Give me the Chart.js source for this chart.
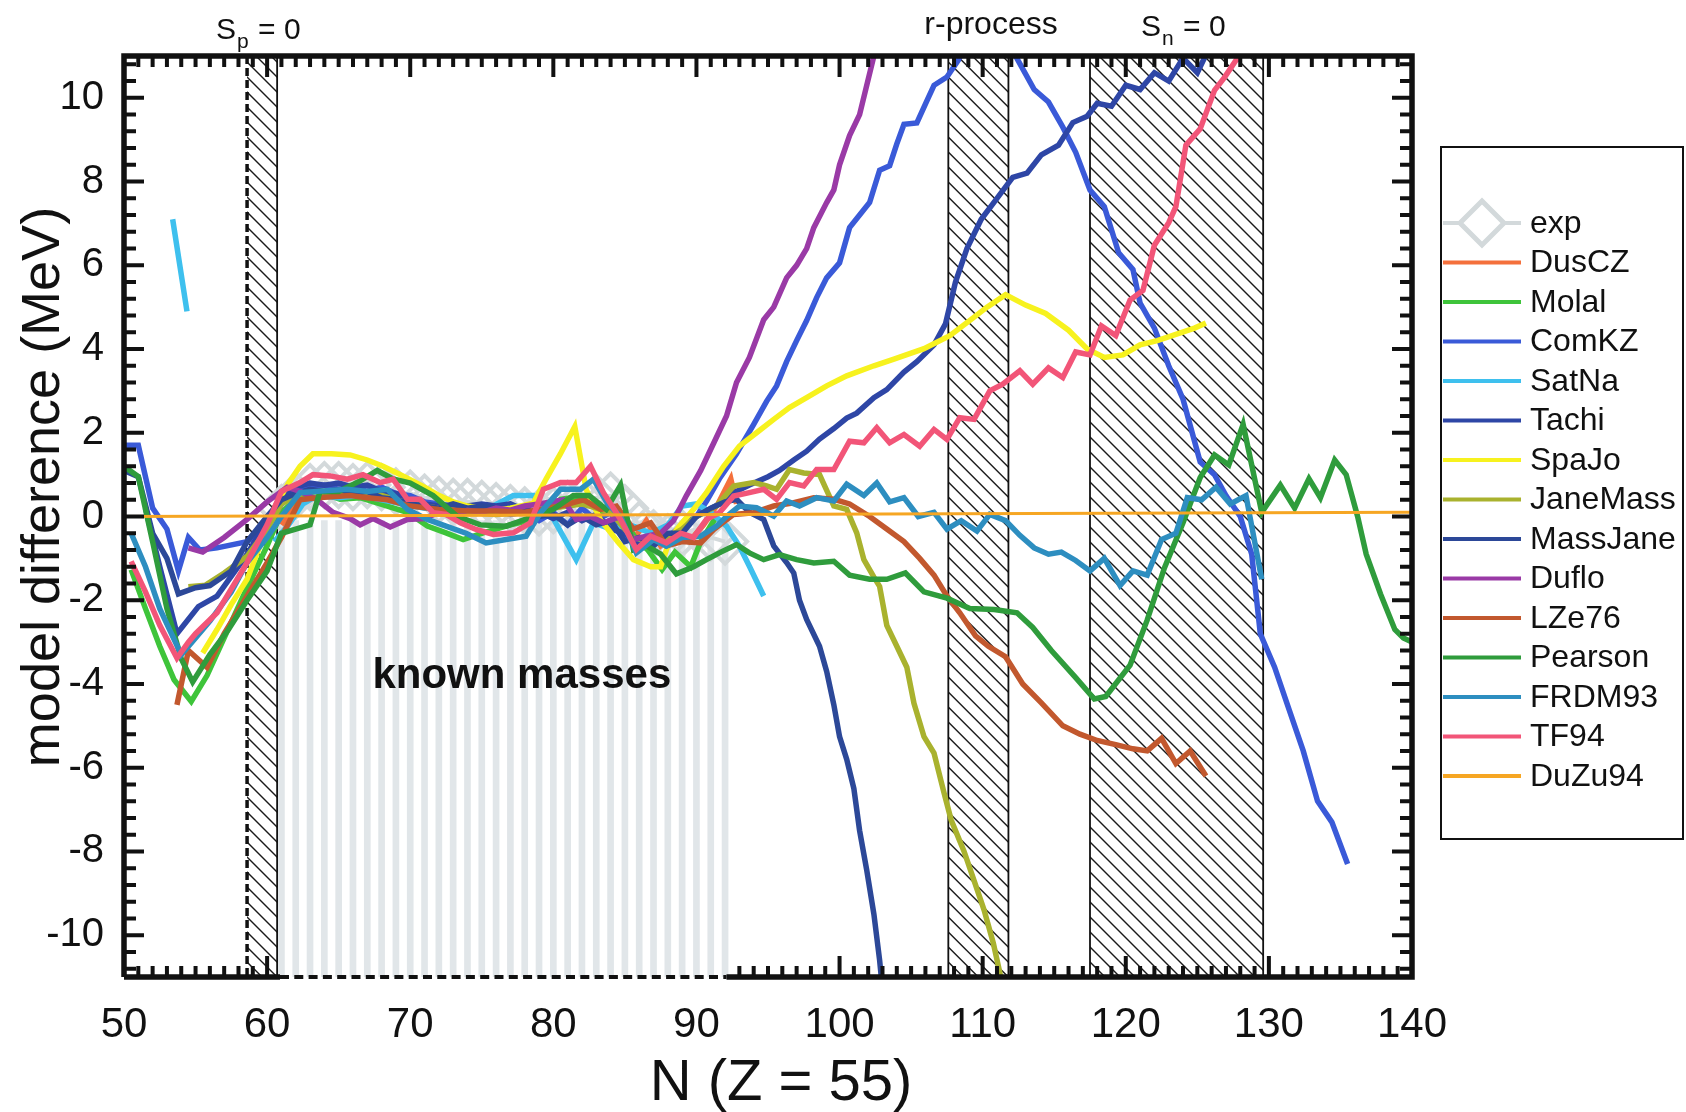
<!DOCTYPE html>
<html>
<head>
<meta charset="utf-8">
<script src="https://cdn.jsdelivr.net/npm/chart.js@4.4.1/dist/chart.umd.min.js"></script>
<style>
  body { margin: 0; background: #fff; }
  canvas { display: block; }
</style>
</head>
<body>
<canvas id="massChart" width="1686" height="1112"></canvas>
<script>
// axis ranges and tick labels
const xMin = 50, xMax = 140;
const yMin = -11, yMax = 11;
const xTicks = [50, 60, 70, 80, 90, 100, 110, 120, 130, 140];
const yTicks = [-10, -8, -6, -4, -2, 0, 2, 4, 6, 8, 10];

// shaded regions (N ranges)
const spBand = [58.6, 60.7];
const rBand = [107.6, 111.8];
const snBand = [117.5, 129.6];
const knownGap = [60.9, 92.1];

// experimental points (known masses)
const knownN = [61, 62, 63, 64, 65, 66, 67, 68, 69, 70, 71, 72, 73, 74, 75, 76,
                77, 78, 79, 80, 81, 82, 83, 84, 85, 86, 87, 88, 89, 90, 91, 92];
const expV = [0.2, 0.5, 0.7, 0.75, 0.75, 0.7, 0.75, 0.7, 0.6, 0.55, 0.45, 0.4, 0.35, 0.35, 0.3, 0.25,
              0.2, 0.15, 0.1, 0.15, 0.3, 0.4, 0.45, 0.5, 0.2, -0.2, -0.4, -0.5, -0.4, -0.3, -0.5, -0.6];
const stripeTop = -0.1;

// model differences, [N, MeV]
const dusCZ = [[61,-0.2],[62,0.3],[63.5,0.5],[65,0.55],[67,0.45],[69,0.35],[71,0.25],[73,0.2],[75,0.15],
  [77,0.1],[79,0.1],[81,0.3],[82.5,0.4],[84,0.1],[85.5,-0.6],[86.5,-0.1],[87.5,-0.7],[88.5,-0.4],
  [89.5,-0.6],[90.5,-0.2],[91.5,0.3],[92.4,0.9],[92.8,0.3]];

const molal = [[50.5,-1.27],[51.5,-2.2],[52.5,-3.1],[53.5,-3.9],[54.7,-4.42],[55.8,-3.8],[57,-2.9],
  [58.6,-1.7],[60,-0.7],[61,0.1],[62,0.4],[63.5,0.6],[65.1,0.41],[66.5,0.45],[68.4,0.25],[69.8,0.1],
  [71.2,-0.23],[72.5,-0.39],[73.7,-0.55],[75.1,-0.39],[77,-0.2],[78.6,-0.07],[80.5,0.41],[82.1,0.49],
  [83.3,0.09],[84.4,0.2],[85.8,-0.55],[86.6,-0.8],[87.6,-1.27],[88.5,-0.85],[89.6,-1.2],[90.3,-0.6],[91.4,0.0]];

const comKZ = [[50,1.7],[51,1.7],[52,0.2],[53,-0.3],[53.8,-1.3],[54.5,-0.5],[55.3,-0.8],[56.5,-0.75],
  [58.6,-0.6],[60,-0.3],[61,0.3],[62,0.6],[63,0.7],[64,0.75],[65,0.65],[66,0.7],[67,0.6],[68,0.7],
  [69,0.55],[70,0.5],[71,0.35],[72,0.3],[73,0.25],[74,0.2],[75,0.1],[76,0.15],[77,0.05],[78,0.1],
  [79,-0.1],[80,0.1],[81,-0.2],[82,0.2],[83,-0.1],[84,0.1],[85,-0.5],[86,-0.6],[87,-0.4],[88,-0.5],
  [89,-0.2],[90,0.0],[90.7,0.36],[91.6,0.9],[92.8,1.5],[94,2.2],[94.9,2.75],[95.6,3.12],[96.3,3.7],
  [97,4.2],[97.7,4.68],[98.4,5.23],[99.1,5.7],[100,6.06],[100.7,6.9],[101.4,7.2],[102.1,7.5],
  [102.8,8.27],[103.5,8.38],[104,8.9],[104.5,9.37],[105.4,9.4],[106.1,9.93],[106.6,10.3],[107.5,10.5],
  [108.3,10.9],[109,11.4],[111,11.9],[112.3,11.0],[113.6,10.2],[114.6,9.9],[115.6,9.3],[116.5,8.7],
  [117.5,7.8],[118.5,7.4],[119.5,6.3],[120.5,5.9],[121,5.1],[122,4.5],[123,3.6],[124,2.8],[125.2,1.3],
  [126.2,1.0],[127,0.5],[128,0.0],[128.8,-0.9],[129.4,-2.8],[130.4,-3.6],[131.4,-4.6],[132.4,-5.6],
  [133.4,-6.8],[134.4,-7.3],[135.5,-8.3]];

const satNa = [[53.4,7.1],[54.4,4.9],[57,null],[60.5,-0.6],[61.5,-0.2],[62.5,0.3],[63.5,0.5],[65,0.45],
  [66.5,0.5],[68,0.4],[69.5,0.3],[71,0.2],[72.5,0.2],[74,0.15],[75.5,0.2],[77.2,0.5],[78.6,0.5],
  [80,-0.05],[81.6,-1.03],[82.8,-0.15],[84,-0.3],[85.6,-0.23],[86.8,-0.4],[88,-0.2],[89,0.25],[90,0.3],
  [91,0.1],[92.1,-0.23],[93,-0.71],[93.7,-1.19],[94.7,-1.9]];

const tachi = [[51.5,0.2],[52.5,-1.2],[53.7,-2.8],[55.2,-2.15],[56.5,-1.9],[58.6,-0.9],[60,-0.1],[61,0.5],
  [62,0.7],[63,0.8],[64,0.75],[65,0.8],[66,0.7],[67,0.75],[68,0.6],[69,0.55],[70,0.4],[71,0.3],[72,0.25],
  [73,0.2],[74,0.25],[75,0.3],[76,0.25],[77,0.3],[78,0.15],[79,0.1],[80,-0.05],[81,0.1],[82,-0.1],[83,0.05],
  [84,-0.3],[85,-0.4],[86,-0.7],[87,-0.5],[88,-0.6],[89,-0.3],[90,0.0],[91.6,0.3],[92.8,0.6],[93.7,0.75],
  [95,0.95],[95.8,1.1],[96.8,1.35],[97.7,1.56],[98.6,1.85],[99.6,2.1],[100.5,2.35],[101.2,2.47],
  [102.4,2.84],[103.3,3.03],[104.5,3.45],[105.4,3.7],[106.6,4.1],[107.4,4.6],[108.1,5.6],[108.9,6.4],
  [109.9,7.1],[111,7.6],[112.1,8.1],[113.1,8.2],[114.1,8.64],[115.3,8.87],[116.3,9.41],[117.3,9.56],
  [118,9.87],[119,9.8],[120,10.3],[121,10.2],[122,10.6],[123,10.4],[124,10.95],[125,10.6],[125.7,11.1],[126.3,11.5]];

const spaJo = [[55.5,-3.26],[56.5,-2.7],[57.5,-2.1],[58.6,-1.5],[59.5,-0.7],[60.5,0.2],[61.5,0.8],
  [62.3,1.2],[63.2,1.5],[64.5,1.5],[65.8,1.47],[67,1.35],[68.1,1.2],[69,1.05],[70,0.88],[71,0.7],
  [71.9,0.52],[73,0.35],[74,0.25],[75,0.2],[76,0.15],[77,0.2],[78.6,0.32],[79.5,0.9],[80.5,1.5],
  [81.5,2.15],[82.3,0.64],[83.3,-0.08],[84.5,-0.6],[85.6,-1.03],[86.8,-1.2],[87.5,-1.2],[88.2,-0.5],
  [88.8,-0.23],[89.8,0.17],[90.7,0.57],[91.9,1.2],[93,1.68],[94.2,2.0],[95.4,2.32],[96.5,2.6],
  [97.7,2.84],[99.1,3.12],[100.5,3.36],[102.4,3.6],[103.8,3.76],[105.9,4.01],[107.7,4.32],[109.2,4.71],
  [110.3,5.0],[111.6,5.3],[113,5.05],[114.4,4.85],[116,4.45],[117.3,4.0],[118.5,3.8],[119.8,3.86],
  [121,4.1],[122.2,4.2],[123.5,4.35],[124.8,4.5],[125.6,4.62]];

const janeMass = [[54.5,-1.68],[55.7,-1.64],[57,-1.35],[58.6,-0.95],[60,-0.3],[61,0.3],[62,0.5],[63,0.6],
  [64.5,0.55],[66,0.6],[68,0.5],[70,0.3],[72,0.2],[74,0.1],[76,0.05],[78,0.1],[80,0.2],[82,0.3],
  [84,0.1],[85.5,-0.5],[87,-0.6],[88,-0.5],[89,-0.3],[90,0.0],[91.4,0.25],[92.6,0.73],[94,0.81],
  [94.9,0.73],[95.6,0.65],[96.5,1.12],[97.5,1.04],[98.6,1.0],[99.6,0.25],[100.5,0.17],[101.2,-0.39],
  [101.7,-1.03],[102.4,-1.45],[102.8,-1.67],[103.3,-2.6],[104,-3.1],[104.7,-3.6],[105.2,-4.46],
  [105.9,-5.26],[106.6,-5.65],[107.3,-6.6],[107.8,-7.25],[108.7,-8.0],[109.4,-8.7],[110.1,-9.4],
  [110.75,-10.2],[111.2,-10.9],[111.4,-11.3]];

const massJane = [[50,1.1],[51,0.95],[52,-0.4],[53,-1.0],[53.8,-1.85],[55,-1.7],[56,-1.65],[57.5,-1.3],
  [58.6,-0.6],[60,0.0],[61,0.4],[62,0.55],[63,0.65],[64,0.6],[65,0.65],[66,0.55],[67,0.6],[68,0.45],
  [69,0.4],[70,0.3],[71,0.25],[72,0.2],[73,0.3],[74,0.2],[75,0.25],[76,0.2],[77,0.1],[78,0.2],[79,0.0],
  [80,0.05],[81,-0.2],[82,0.0],[83,-0.2],[84,-0.1],[85,-0.6],[86,-0.5],[87,-0.7],[88,-0.4],[89,-0.4],
  [90,0.0],[91,0.2],[92,0.35],[92.8,0.41],[93.7,0.1],[94.7,-0.07],[95.4,-0.7],[96.3,-1.1],[96.8,-1.35],
  [97.2,-2.0],[97.7,-2.46],[98.6,-3.1],[99.1,-3.7],[99.6,-4.5],[100,-5.26],[100.5,-5.8],[101,-6.5],
  [101.4,-7.5],[101.9,-8.45],[102.4,-9.5],[102.8,-10.6],[103,-11.3]];

const duflo = [[54.5,-0.75],[55.5,-0.85],[57,-0.5],[58.6,-0.07],[60,0.35],[61.4,0.7],[62.3,0.6],
  [63.5,0.4],[64.6,0.1],[65.8,-0.05],[66.5,-0.2],[67.4,-0.05],[68.6,-0.25],[69.8,-0.07],[71,-0.05],
  [72,0.1],[73,0.0],[74,0.15],[75,0.1],[76,0.2],[77,0.15],[78,0.25],[79,0.3],[80.7,0.4],[81.6,-0.07],
  [82.6,0.0],[83.5,-0.15],[84.7,0.0],[85.6,-0.55],[86.5,-0.47],[87.5,-0.4],[88.4,-0.1],[89.3,0.5],
  [90.3,1.1],[91.2,1.75],[92.1,2.4],[92.8,3.2],[93.7,3.8],[94.7,4.7],[95.4,5.0],[96.3,5.7],[97,6.0],
  [97.7,6.4],[98.2,6.9],[99.1,7.5],[99.6,7.8],[100,8.4],[100.7,9.1],[101.4,9.6],[102.4,11.0],[102.6,11.4]];

const lze76 = [[53.7,-4.5],[54.5,-3.2],[55.8,-3.6],[57,-2.8],[58.6,-1.9],[60,-1.1],[61,-0.5],[62.3,0.4],
  [63.5,0.45],[65.8,0.5],[67,0.45],[68.4,0.4],[70,0.25],[72,0.17],[74,0.13],[76,0.13],[78,0.1],
  [80.5,0.25],[82.1,0.4],[83.3,0.17],[84.4,0.25],[85.6,-0.3],[86.8,-0.15],[87.9,-0.7],[89,-0.6],
  [90.3,-0.63],[91.2,-0.31],[92.6,0.05],[94,0.09],[95.4,0.25],[96.8,0.33],[98.2,0.45],[99.6,0.41],
  [100.7,0.3],[102.1,0.0],[103.3,-0.3],[104.5,-0.6],[105.6,-1.0],[106.6,-1.4],[107.5,-1.9],[108.4,-2.3],
  [109.5,-2.85],[110.4,-3.1],[111.6,-3.35],[112.8,-4.0],[114.1,-4.45],[115.6,-5.0],[116.8,-5.2],
  [118,-5.35],[119.3,-5.45],[120.5,-5.55],[121.5,-5.6],[122.5,-5.3],[123.5,-5.9],[124.5,-5.6],[125.6,-6.2]];

const pearson = [[50,1.2],[51,0.95],[52,-0.6],[53,-2.2],[54,-3.4],[54.8,-3.95],[56,-3.3],[57.3,-2.7],
  [58.6,-2.0],[60,-1.3],[61,-0.4],[62,-0.3],[63,-0.2],[63.7,0.6],[65,0.6],[66.5,0.85],[67.7,1.1],
  [68.8,0.9],[70,0.8],[71.6,0.5],[73.3,0.0],[74.9,-0.2],[76.7,-0.23],[78.6,0.0],[80,0.17],[81.4,0.5],
  [82.5,0.5],[83.7,0.17],[84.7,0.75],[85.6,-0.8],[86.5,-0.7],[87.5,-0.9],[88.6,-1.37],[89.8,-1.2],
  [90.7,-1.03],[91.7,-0.85],[92.8,-0.67],[93.7,-0.87],[94.7,-1.03],[95.8,-0.91],[97,-1.03],[98.2,-1.11],
  [99.6,-1.07],[100.7,-1.4],[102.1,-1.5],[103.3,-1.5],[104.6,-1.35],[105.9,-1.8],[107.5,-1.95],
  [109.1,-2.2],[110.8,-2.22],[112.4,-2.3],[113.5,-2.65],[114.8,-3.2],[116.5,-3.85],[117.8,-4.36],
  [118.6,-4.3],[120.3,-3.55],[121.5,-2.47],[122.7,-1.23],[124,-0.15],[125.2,0.93],[126.2,1.47],
  [127.2,1.23],[128.2,2.2],[129.5,0.1],[130.8,0.75],[131.8,0.2],[132.8,0.9],[133.6,0.45],[134.6,1.35],
  [135.4,1.0],[136.2,0.0],[136.8,-0.9],[137.8,-1.85],[138.8,-2.7],[139.4,-2.9],[140,-3.0]];

const frdm93 = [[50.5,-0.4],[51.5,-1.2],[52.5,-2.2],[54,-3.3],[55,-2.9],[56,-2.5],[57.5,-1.8],[58.6,-1.1],
  [60,-0.5],[61,0.0],[62.3,0.57],[63.5,0.6],[65.6,0.65],[67,0.6],[68.4,0.65],[69.8,0.17],[71.2,-0.07],
  [72.5,-0.23],[73.9,-0.4],[75.3,-0.63],[76.7,-0.55],[78.1,-0.47],[79.1,0.09],[80.5,0.65],[81.9,0.65],
  [82.8,0.89],[83.8,0.3],[84.7,0.0],[85.8,-0.87],[87,-0.55],[87.9,-0.71],[89,-0.5],[90.3,-0.47],
  [91.4,-0.23],[92.1,0.0],[93,0.25],[94.2,0.21],[95.4,0.01],[96.3,0.37],[97.2,0.25],[98.4,0.45],
  [99.6,0.37],[100.5,0.77],[101.7,0.5],[102.6,0.8],[103.5,0.35],[104.5,0.45],[105.5,0.0],[106.6,0.1],
  [107.5,-0.3],[108.5,-0.1],[109.6,-0.35],[110.5,0.05],[111.6,-0.1],[112.6,-0.45],[113.6,-0.75],
  [114.6,-0.9],[115.5,-0.85],[116.5,-1.05],[117.5,-1.3],[118.5,-1.0],[119.6,-1.65],[120.5,-1.3],
  [121.5,-1.4],[122.5,-0.55],[123.5,-0.4],[124.3,0.45],[125.3,0.4],[126.3,0.7],[127.3,0.3],[128.4,0.5],[129.5,-1.5]];

const tf94 = [[50.5,-1.07],[51.5,-1.8],[52.5,-2.6],[53.7,-3.38],[54.5,-3.0],[55,-2.8],[56.5,-2.3],
  [58.6,-1.1],[60,-0.2],[61,0.6],[62.3,0.81],[63.2,1.0],[64.4,0.97],[65.6,0.89],[66.7,1.0],[67.9,0.81],
  [68.8,0.89],[69.8,0.41],[70.7,0.41],[71.6,0.09],[72.5,0.05],[73.5,-0.15],[74.6,-0.31],[75.8,-0.43],
  [77.2,-0.39],[78.4,-0.15],[79.3,0.65],[80.5,0.81],[81.6,0.81],[82.6,1.2],[83.5,0.57],[84.7,-0.07],
  [85.8,-0.79],[86.8,-0.47],[87.9,-0.63],[88.9,-0.4],[89.8,-0.5],[90.7,-0.07],[91.6,0.09],[92.6,0.49],
  [93.7,0.57],[94.7,0.65],[95.6,0.41],[96.5,0.81],[97.5,0.73],[98.4,1.12],[99.6,1.12],[100.7,1.8],
  [101.7,1.76],[102.6,2.12],[103.5,1.76],[104.5,1.96],[105.6,1.68],[106.6,2.08],[107.5,1.84],[108.4,2.36],
  [109.4,2.32],[110.5,3.0],[111.4,3.16],[112.6,3.48],[113.5,3.16],[114.6,3.55],[115.6,3.32],[116.5,3.93],
  [117.5,3.86],[118.3,4.55],[119.3,4.32],[120.3,5.17],[121.2,5.4],[122,6.48],[123,7.02],[123.5,7.4],
  [124.2,8.87],[125.2,9.26],[126.2,10.18],[126.9,10.49],[127.9,11.0],[128.4,11.5]];

const duZu94 = [[50,0.0],[140,0.1]];

// name, colour, data, line width
const series = [
  ['DusCZ', '#f4703c', dusCZ, 5.5],
  ['Molal', '#3ec43a', molal, 5.5],
  ['ComKZ', '#3a5ad8', comKZ, 5.5],
  ['SatNa', '#3ec0ee', satNa, 5.5],
  ['Tachi', '#2e46a6', tachi, 5.5],
  ['SpaJo', '#f7f21e', spaJo, 5.5],
  ['JaneMass', '#a9b22e', janeMass, 5.5],
  ['MassJane', '#2c4898', massJane, 5.5],
  ['Duflo', '#9a3aa6', duflo, 5.5],
  ['LZe76', '#c2582e', lze76, 5.5],
  ['Pearson', '#2f9c3c', pearson, 5.5],
  ['FRDM93', '#2d8ec0', frdm93, 5.5],
  ['TF94', '#f25578', tf94, 5.5],
  ['DuZu94', '#f6a623', duZu94, 3]
];

const expColor = '#d3d9db';
const fontFamily = '"Liberation Sans", Arial, sans-serif';

const datasets = [];
datasets.push({
  type: 'bar',
  label: 'known',
  data: knownN.map(n => ({ x: n, y: [yMin, stripeTop] })),
  backgroundColor: '#e1e6e9',
  barThickness: 6,
  order: 100
});
datasets.push({
  label: 'exp',
  data: knownN.map((n, i) => ({ x: n, y: expV[i] })),
  borderColor: expColor,
  borderWidth: 4,
  pointStyle: 'rectRot',
  pointRadius: 22,
  pointBorderWidth: 4,
  pointBorderColor: expColor,
  pointBackgroundColor: 'rgba(0,0,0,0)',
  order: 50
});
series.forEach((s, i) => {
  datasets.push({
    label: s[0],
    data: s[2].map(p => ({ x: p[0], y: p[1] })),
    borderColor: s[1],
    borderWidth: s[3],
    pointRadius: 0,
    spanGaps: false,
    order: 40 - i
  });
});

// hatched bands, placed via the x scale
const hatchPlugin = {
  id: 'hatch',
  beforeDatasetsDraw(chart) {
    const ctx = chart.ctx, a = chart.chartArea, xs = chart.scales.x;
    const h = a.bottom - a.top;
    [spBand, rBand, snBand].forEach((band, i) => {
      const x0 = xs.getPixelForValue(band[0]);
      const x1 = xs.getPixelForValue(band[1]);
      ctx.save();
      ctx.beginPath();
      ctx.rect(x0, a.top, x1 - x0, h);
      ctx.clip();
      ctx.strokeStyle = '#1a1a1a';
      ctx.lineWidth = 1.4;
      for (let k = -h; k < x1 - x0; k += 15) {
        ctx.beginPath();
        ctx.moveTo(x0 + k, a.top);
        ctx.lineTo(x0 + k + h, a.bottom);
        ctx.stroke();
      }
      ctx.restore();

      ctx.save();
      ctx.strokeStyle = '#111';
      if (i === 0) {
        ctx.lineWidth = 3.5;
        ctx.setLineDash([8, 4]);
      } else {
        ctx.lineWidth = 1.8;
      }
      ctx.beginPath();
      ctx.moveTo(x0, a.top);
      ctx.lineTo(x0, a.bottom);
      ctx.stroke();
      ctx.setLineDash([]);
      ctx.lineWidth = 1.8;
      ctx.beginPath();
      ctx.moveTo(x1, a.top);
      ctx.lineTo(x1, a.bottom);
      ctx.stroke();
      ctx.restore();
    });
  }
};

// frame with inward ticks, annotations, axis titles and legend box
const framePlugin = {
  id: 'frame',
  afterDatasetsDraw(chart) {
    const ctx = chart.ctx, a = chart.chartArea;
    const xs = chart.scales.x, ys = chart.scales.y;
    const gapL = xs.getPixelForValue(knownGap[0]);
    const gapR = xs.getPixelForValue(knownGap[1]);
    ctx.save();
    ctx.strokeStyle = '#111';
    ctx.lineWidth = 4;
    for (let n = xMin + 1; n < xMax; n++) {
      const x = xs.getPixelForValue(n);
      const len = n % 10 === 0 ? 21 : 11;
      ctx.beginPath();
      ctx.moveTo(x, a.top);
      ctx.lineTo(x, a.top + len);
      if (x < gapL - 2 || x > gapR + 2) {
        ctx.moveTo(x, a.bottom);
        ctx.lineTo(x, a.bottom - len);
      }
      ctx.stroke();
    }
    for (let i = -27; i <= 27; i++) {
      const y = ys.getPixelForValue(i * 0.4);
      const len = i % 5 === 0 ? 20 : 12;
      ctx.beginPath();
      ctx.moveTo(a.left, y);
      ctx.lineTo(a.left + len, y);
      ctx.moveTo(a.right, y);
      ctx.lineTo(a.right - len, y);
      ctx.stroke();
    }
    ctx.lineWidth = 5.5;
    ctx.beginPath();
    ctx.moveTo(a.left, a.bottom);
    ctx.lineTo(a.left, a.top);
    ctx.lineTo(a.right, a.top);
    ctx.lineTo(a.right, a.bottom);
    ctx.lineTo(gapR, a.bottom);
    ctx.moveTo(gapL, a.bottom);
    ctx.lineTo(a.left, a.bottom);
    ctx.stroke();
    ctx.lineWidth = 4;
    ctx.setLineDash([9, 5.3]);
    ctx.beginPath();
    ctx.moveTo(gapL, a.bottom);
    ctx.lineTo(gapR, a.bottom);
    ctx.stroke();
    ctx.restore();
  },
  afterDraw(chart) {
    const ctx = chart.ctx;
    const xs = chart.scales.x, ys = chart.scales.y;
    ctx.save();
    ctx.fillStyle = '#111';
    ctx.textBaseline = 'alphabetic';

    // known masses label
    ctx.font = 'bold 42px ' + fontFamily;
    ctx.textAlign = 'center';
    ctx.fillText('known masses', xs.getPixelForValue(77.8), ys.getPixelForValue(-4.1));

    // labels above the frame
    ctx.textAlign = 'left';
    const sub = (x, y, main, s, rest) => {
      ctx.font = '30px ' + fontFamily;
      ctx.fillText(main, x, y);
      let w = ctx.measureText(main).width;
      ctx.font = '21px ' + fontFamily;
      ctx.fillText(s, x + w + 1, y + 9);
      w += ctx.measureText(s).width + 2;
      ctx.font = '30px ' + fontFamily;
      ctx.fillText(rest, x + w, y);
    };
    sub(216, 39, 'S', 'p', ' = 0');
    sub(1141, 36, 'S', 'n', ' = 0');
    ctx.font = '32px ' + fontFamily;
    ctx.textAlign = 'center';
    ctx.fillText('r-process', 991, 34);

    // axis titles
    ctx.font = '58px ' + fontFamily;
    ctx.fillText('N (Z = 55)', 781, 1100);
    ctx.save();
    ctx.translate(44, 487);
    ctx.rotate(-Math.PI / 2);
    ctx.font = '54px ' + fontFamily;
    ctx.textBaseline = 'middle';
    ctx.fillText('model difference (MeV)', 0, 0);
    ctx.restore();

    // legend box
    ctx.strokeStyle = '#111';
    ctx.lineWidth = 2;
    ctx.strokeRect(1441, 147, 242, 692);
    ctx.font = '32px ' + fontFamily;
    ctx.textAlign = 'left';
    ctx.textBaseline = 'middle';
    const rows = chart.data.datasets.filter(d => d.label !== 'known');
    rows.forEach((d, i) => {
      const y = 223 + i * 39.5;
      if (d.label === 'exp') {
        ctx.strokeStyle = expColor;
        ctx.lineWidth = 4;
        ctx.beginPath();
        ctx.moveTo(1443, y);
        ctx.lineTo(1460, y);
        ctx.moveTo(1504, y);
        ctx.lineTo(1521, y);
        ctx.stroke();
        ctx.lineWidth = 5;
        ctx.beginPath();
        ctx.moveTo(1482, y - 22);
        ctx.lineTo(1504, y);
        ctx.lineTo(1482, y + 22);
        ctx.lineTo(1460, y);
        ctx.closePath();
        ctx.stroke();
      } else {
        ctx.strokeStyle = d.borderColor;
        ctx.lineWidth = 4;
        ctx.beginPath();
        ctx.moveTo(1443, y);
        ctx.lineTo(1521, y);
        ctx.stroke();
      }
      ctx.fillStyle = '#111';
      ctx.fillText(d.label, 1530, y + 1);
    });
    ctx.restore();
  }
};

Chart.defaults.font.family = fontFamily;
Chart.defaults.color = '#111';

const ctx = document.getElementById('massChart').getContext('2d');
const massChart = new Chart(ctx, {
  type: 'line',
  data: { datasets: datasets },
  options: {
    responsive: false,
    animation: false,
    layout: { padding: { left: 0, top: 56, right: 274, bottom: 0 } },
    plugins: {
      legend: { display: false },
      tooltip: { enabled: false }
    },
    elements: { line: { tension: 0 } },
    scales: {
      x: {
        type: 'linear',
        min: xMin,
        max: xMax,
        offset: false,
        grid: { display: false, offset: false },
        border: { display: false },
        afterFit: (scale) => { scale.height = 135; },
        afterBuildTicks: (scale) => { scale.ticks = xTicks.map(v => ({ value: v })); },
        ticks: {
          font: { size: 42 },
          color: '#111',
          padding: 15,
          maxRotation: 0,
          autoSkip: false
        }
      },
      y: {
        type: 'linear',
        min: yMin,
        max: yMax,
        grid: { display: false },
        border: { display: false },
        afterFit: (scale) => { scale.width = 124; },
        afterBuildTicks: (scale) => { scale.ticks = yTicks.map(v => ({ value: v })); },
        ticks: {
          font: { size: 40 },
          color: '#111',
          padding: 12
        }
      }
    }
  },
  plugins: [hatchPlugin, framePlugin]
});
</script>
</body>
</html>
